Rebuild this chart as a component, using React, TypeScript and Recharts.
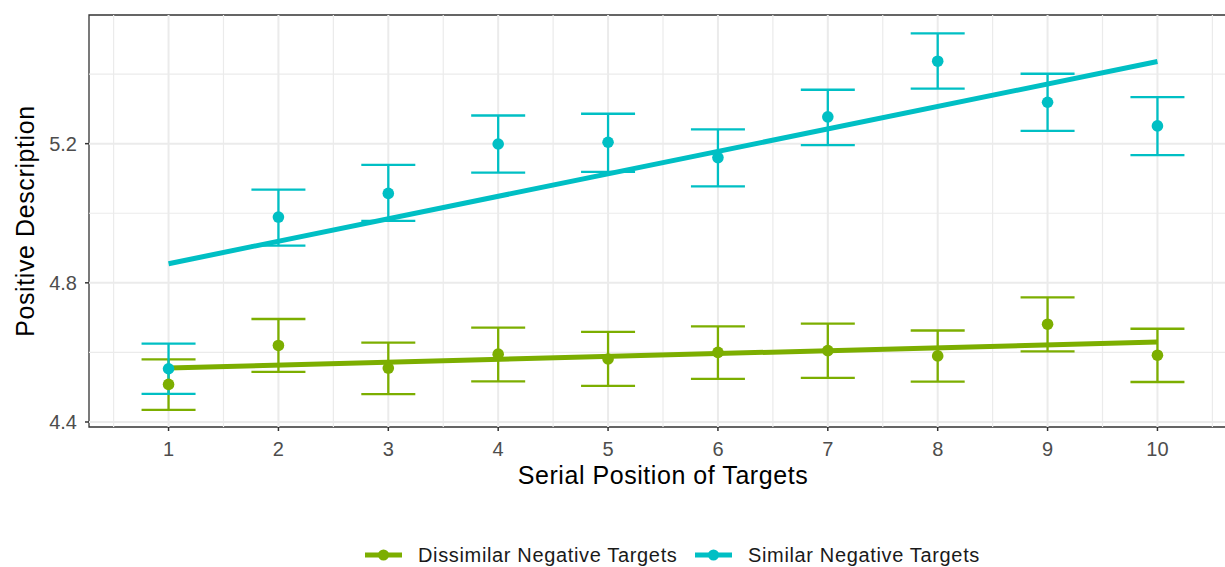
import { ComposedChart, Scatter, ErrorBar, XAxis, YAxis, ReferenceLine, ReferenceArea, Label } from 'recharts';

// serial positions and per-position summaries (mean, lower / upper error bar)
const positions = [1, 2, 3, 4, 5, 6, 7, 8, 9, 10];

const dissimilarMean = [4.508, 4.620, 4.555, 4.595, 4.581, 4.600, 4.605, 4.590, 4.681, 4.592];
const dissimilarLow = [4.435, 4.544, 4.480, 4.517, 4.504, 4.524, 4.527, 4.516, 4.603, 4.515];
const dissimilarHigh = [4.580, 4.696, 4.628, 4.671, 4.659, 4.675, 4.683, 4.663, 4.758, 4.668];

const similarMean = [4.553, 4.989, 5.057, 5.199, 5.204, 5.160, 5.277, 5.437, 5.319, 5.251];
const similarLow = [4.481, 4.907, 4.978, 5.117, 5.119, 5.077, 5.196, 5.358, 5.237, 5.167];
const similarHigh = [4.625, 5.068, 5.139, 5.281, 5.286, 5.241, 5.355, 5.517, 5.401, 5.334];

// fitted trend lines, read at the first and last position
const fitX = [1, 10];
const dissimilarFit = [4.555, 4.630];
const similarFit = [4.855, 5.436];

const seriesNames = ['Dissimilar Negative Targets', 'Similar Negative Targets'];
const seriesColors = ['#7CAE00', '#00BFC4'];

const yTicks = [4.4, 4.8, 5.2];
const yMinor = [4.6, 5.0, 5.4];
const xMinor = [0.5, 1.5, 2.5, 3.5, 4.5, 5.5, 6.5, 7.5, 8.5, 9.5, 10.5];
const xDomain = [0.276, 10.724];
const yDomain = [4.3856, 5.5698];

const xTitle = 'Serial Position of Targets';
const yTitle = 'Positive Description';

const FONT = '"Liberation Sans", Arial, sans-serif';

const toRows = (mean: number[], low: number[], high: number[]) =>
  positions.map((x, i) => ({ x, y: mean[i], err: [mean[i] - low[i], high[i] - mean[i]] }));

const toFit = (ys: number[]) => fitX.map((x, i) => ({ x, y: ys[i] }));

const dissimilarRows = toRows(dissimilarMean, dissimilarLow, dissimilarHigh);
const similarRows = toRows(similarMean, similarLow, similarHigh);

const XTitle = (props: any) => {
  const vb = props.viewBox || {};
  return (
    <text x={vb.x + vb.width / 2} y={vb.y + 57} textAnchor="middle" fontSize={25} letterSpacing={0.55} fill="#000" fontFamily={FONT}>
      {xTitle}
    </text>
  );
};

const YTitle = (props: any) => {
  const vb = props.viewBox || {};
  const cy = vb.y + vb.height / 2;
  return (
    <text transform={`translate(34,${cy}) rotate(-90)`} textAnchor="middle" fontSize={25} letterSpacing={0.6} fill="#000" fontFamily={FONT}>
      {yTitle}
    </text>
  );
};

const dot = (color: string) => (p: any) => <circle cx={p.cx} cy={p.cy} r={5.8} fill={color} />;
const noShape = () => <g />;

export default function App() {
  const tick = { fontSize: 20, fill: '#4D4D4D', fontFamily: FONT };
  return (
    <div style={{ position: 'absolute', left: 0, top: 0, width: 1225, height: 567, overflow: 'hidden', background: '#fff', fontFamily: FONT }}>
      <ComposedChart width={1247} height={567} margin={{ top: 15, right: 10, bottom: 100, left: 29 }}>
        <XAxis
          type="number"
          dataKey="x"
          domain={xDomain}
          ticks={positions}
          allowDataOverflow
          axisLine={false}
          tickSize={4}
          tickMargin={11}
          tickLine={{ stroke: '#333333', strokeWidth: 1.5 }}
          tick={tick}
          height={40}
        >
          <Label content={XTitle} />
        </XAxis>
        <YAxis
          type="number"
          dataKey="y"
          domain={yDomain}
          ticks={yTicks}
          allowDataOverflow
          axisLine={false}
          tickSize={4}
          tickMargin={8}
          tickLine={{ stroke: '#333333', strokeWidth: 1.5 }}
          tick={tick}
          tickFormatter={(v: number) => v.toFixed(1)}
          width={60}
        >
          <Label content={YTitle} />
        </YAxis>

        {xMinor.map((v) => (
          <ReferenceLine key={'xm' + v} x={v} stroke="#EBEBEB" strokeWidth={1.2} />
        ))}
        {yMinor.map((v) => (
          <ReferenceLine key={'ym' + v} y={v} stroke="#EBEBEB" strokeWidth={1.2} />
        ))}
        {positions.map((v) => (
          <ReferenceLine key={'xM' + v} x={v} stroke="#EBEBEB" strokeWidth={2} />
        ))}
        {yTicks.map((v) => (
          <ReferenceLine key={'yM' + v} y={v} stroke="#EBEBEB" strokeWidth={2} />
        ))}

        <Scatter data={dissimilarRows} shape={noShape} isAnimationActive={false}>
          <ErrorBar dataKey="err" direction="y" width={27} stroke={seriesColors[0]} strokeWidth={2.3} />
        </Scatter>
        <Scatter data={similarRows} shape={noShape} isAnimationActive={false}>
          <ErrorBar dataKey="err" direction="y" width={27} stroke={seriesColors[1]} strokeWidth={2.3} />
        </Scatter>

        <Scatter data={toFit(dissimilarFit)} line={{ stroke: seriesColors[0], strokeWidth: 5 }} shape={noShape} isAnimationActive={false} />
        <Scatter data={toFit(similarFit)} line={{ stroke: seriesColors[1], strokeWidth: 5 }} shape={noShape} isAnimationActive={false} />

        <Scatter data={dissimilarRows} shape={dot(seriesColors[0])} isAnimationActive={false} />
        <Scatter data={similarRows} shape={dot(seriesColors[1])} isAnimationActive={false} />

        <ReferenceArea x1={xDomain[0]} x2={xDomain[1]} y1={yDomain[0]} y2={yDomain[1]} fill="none" stroke="#333333" strokeWidth={1.3} />
      </ComposedChart>

      {seriesNames.map((name, i) => (
        <div
          key={name}
          style={{ position: 'absolute', top: 543, left: i === 0 ? 365 : 695, display: 'flex', alignItems: 'center', height: 24 }}
        >
          <svg width={37} height={14} style={{ marginRight: 16 }}>
            <line x1={0} y1={7} x2={37} y2={7} stroke={seriesColors[i]} strokeWidth={5} />
            <circle cx={18.5} cy={7} r={5.5} fill={seriesColors[i]} />
          </svg>
          <span style={{ fontSize: 20, letterSpacing: 0.65, color: '#1A1A1A', whiteSpace: 'nowrap' }}>{name}</span>
        </div>
      ))}
    </div>
  );
}
